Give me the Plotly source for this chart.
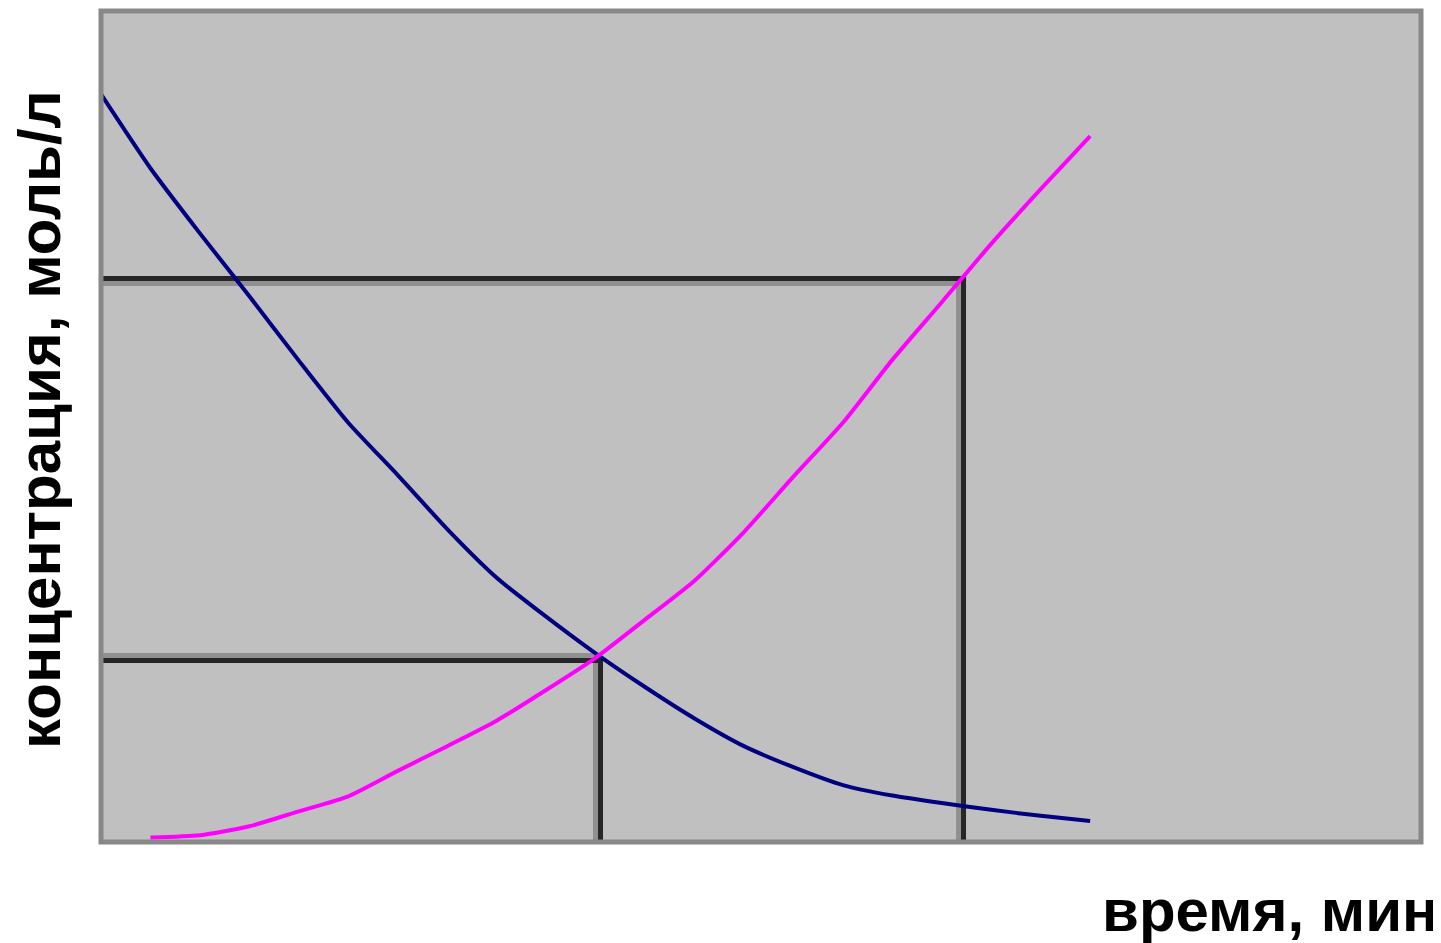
import plotly.graph_objects as go

# ---- data ----
time_reagent = [0, 1, 2, 3, 4, 5, 6, 7, 8, 9, 10, 11, 12, 13, 14, 15, 16, 17, 18, 19, 20]
conc_reagent = [0.999, 0.900, 0.813, 0.729, 0.643, 0.560, 0.490, 0.418, 0.353, 0.301, 0.252,
                0.207, 0.165, 0.128, 0.100, 0.076, 0.062, 0.052, 0.043, 0.035, 0.028]

time_product = [1, 2, 3, 4, 5, 6, 7, 8, 9, 10, 11, 12, 13, 14, 15, 16, 17, 18, 19, 20]
conc_product = [0.006, 0.009, 0.021, 0.041, 0.061, 0.095, 0.128, 0.162, 0.203, 0.246,
                0.297, 0.349, 0.414, 0.488, 0.560, 0.644, 0.721, 0.799, 0.872, 0.943]

# reference points marked with drop lines: (time, concentration)
ref_low = (10.1, 0.2425)
ref_high = (17.44, 0.7527)

x_title = "время, мин"
y_title = "концентрация, моль/л"

# ---- layout constants (page body has an 8 px margin) ----
OFF = 8
W, H = 1441 - OFF, 943 - OFF
ML, MR, MT, MB = 101 - OFF, 20, 11 - OFF, 101
PW, PH = W - ML - MR, H - MT - MB
T_MAX = 26.69
C_MAX = 1.11
dx = 5 * T_MAX / PW    # 5 px in data units (shadow offset)
dy = 5 * C_MAX / PH

DARK = "#262626"
SHADOW = "#909090"

fig = go.Figure()

def seg(x, y, color):
    fig.add_trace(go.Scatter(x=x, y=y, mode="lines",
                             line=dict(color=color, width=5),
                             hoverinfo="skip", showlegend=False))

# upper reference lines (shadow below / left)
t2, c2 = ref_high
seg([0, t2], [c2 - dy, c2 - dy], SHADOW)
seg([t2 - dx, t2 - dx], [0, c2 - dy], SHADOW)
seg([0, t2 + dx / 2], [c2, c2], DARK)
seg([t2, t2], [0, c2], DARK)

# lower reference lines (shadow above / left)
t1, c1 = ref_low
seg([0, t1], [c1 + dy, c1 + dy], SHADOW)
seg([t1 - dx, t1 - dx], [0, c1 + dy], SHADOW)
seg([0, t1 + dx / 2], [c1, c1], DARK)
seg([t1, t1], [0, c1], DARK)

fig.add_trace(go.Scatter(x=time_reagent, y=conc_reagent, mode="lines",
                         line=dict(color="#000080", width=4, shape="spline", smoothing=0.6),
                         showlegend=False))
fig.add_trace(go.Scatter(x=time_product, y=conc_product, mode="lines",
                         line=dict(color="#FF00FF", width=4, shape="spline", smoothing=0.6),
                         showlegend=False))

title_font = dict(family="Liberation Sans, Arial, sans-serif", size=60, color="#000000")

fig.update_layout(
    width=W, height=H,
    margin=dict(l=ML, r=MR, t=MT, b=MB, pad=0),
    paper_bgcolor="#FFFFFF",
    plot_bgcolor="#C0C0C0",
    showlegend=False,
    xaxis=dict(range=[0, T_MAX], showgrid=False, zeroline=False, showticklabels=False,
               ticks="", showline=False, fixedrange=True),
    yaxis=dict(range=[0, C_MAX], showgrid=False, zeroline=False, showticklabels=False,
               ticks="", showline=False, fixedrange=True),
    shapes=[dict(type="rect", xref="paper", yref="paper", x0=0, x1=1, y0=0, y1=1,
                 line=dict(color="#888888", width=5), fillcolor="rgba(0,0,0,0)", layer="above")],
    annotations=[
        dict(text="<b>" + x_title + "</b>", xref="paper", yref="paper",
             x=(1440 - OFF - ML) / PW, y=(H - MB - (910 - OFF)) / PH,
             xanchor="right", yanchor="middle",
             showarrow=False, font=title_font),
        dict(text="<b>" + y_title + "</b>", xref="paper", yref="paper",
             x=(40 - OFF - ML) / PW, y=(H - MB - (420 - OFF)) / PH,
             xanchor="center", yanchor="middle",
             textangle=-90, showarrow=False, font=title_font),
    ],
)

fig.write_html("out.html")
